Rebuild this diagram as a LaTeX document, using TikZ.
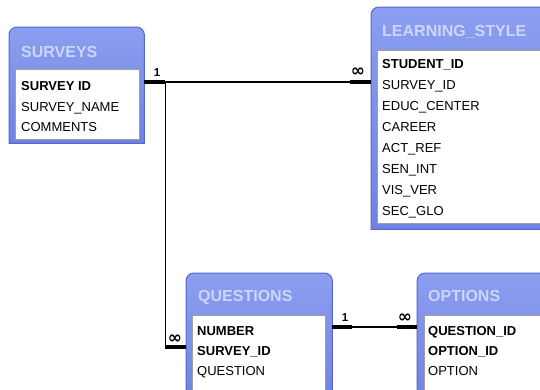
\documentclass[tikz,border=0pt]{standalone}
\usepackage{fontspec}
\setmainfont{Liberation Sans}
\newfontfamily\symfont{DejaVu Sans}
\usetikzlibrary{positioning,calc}
\definecolor{panelTop}{HTML}{8C9EF0}
\definecolor{panelBot}{HTML}{6E83E2}
\definecolor{panelEdge}{HTML}{5468D0}
\definecolor{titleText}{HTML}{CCD6FA}
\tikzset{
	x=1pt, y=1pt,
	tablearea/.style = {rectangle, inner sep=0pt, draw=none, anchor=north west},
	panel/.style = {draw=panelEdge, line width=1pt, top color=panelTop, bottom color=panelBot},
	fieldbox/.style = {rectangle, inner sep=0pt, anchor=north west, draw=gray!75, line width=1.4pt, fill=white},
	title/.style = {anchor=base west, inner sep=0pt, text=titleText, font=\bfseries\fontsize{16}{16}\selectfont},
	field/.style = {anchor=base west, inner sep=0pt, font=\fontsize{13}{13}\selectfont},
	keyfield/.style = {field, font=\bfseries\fontsize{13}{13}\selectfont},
	link/.style = {line width=1.1pt},
	stub/.style = {line width=3.6pt},
	card/.style = {inner sep=0pt, font=\bfseries\fontsize{11.5}{11.5}\selectfont},
	many/.style = {inner sep=0pt, font=\symfont\bfseries\fontsize{17}{17}\selectfont}
}
% panel with rounded top corners, drawn round a tablearea node
\newcommand{\tablepanel}[1]{%
	\draw[panel] (#1.south west) -- ([yshift=-8pt]#1.north west)
		arc[start angle=180, end angle=90, radius=8pt] -- ([xshift=-8pt]#1.north east)
		arc[start angle=90, end angle=0, radius=8pt] -- (#1.south east) -- cycle;}

\begin{document}
\begin{tikzpicture}
\useasboundingbox (0,0) rectangle (540,-389);
\clip (0,0) rectangle (540,-389);
\fill[white] (0,0) rectangle (540,-389);

% SURVEYS
\node[tablearea, minimum width=135pt, minimum height=116pt] (surveys) at (9,-27) {};
\tablepanel{surveys}
\node[fieldbox, minimum width=124pt, minimum height=70pt] (surveysf) at (15,-69) {};
\node[title] (surveyst) at (21,-57) {SURVEYS};
\node[keyfield] (sv1) at (21,-90.5) {SURVEY ID};
\node[field] (sv2) at (21,-111) {SURVEY\_NAME};
\node[field] (sv3) at (21,-131.5) {COMMENTS};

% LEARNING_STYLE
\node[tablearea, minimum width=180pt, minimum height=222pt] (learning) at (371,-7) {};
\tablepanel{learning}
\node[fieldbox, minimum width=175pt, minimum height=173pt] (learningf) at (377,-50) {};
\node[title] (learningt) at (382,-36) {LEARNING\_STYLE};
\node[keyfield] (ls1) at (382,-68) {STUDENT\_ID};
\foreach \fname [count=\i from 2] in {SURVEY\_ID, EDUC\_CENTER, CAREER, ACT\_REF, SEN\_INT, VIS\_VER, SEC\_GLO}
	\node[field] (ls\i) at (382,{-68-(\i-1)*21.14}) {\fname};

% QUESTIONS
\node[tablearea, minimum width=146pt, minimum height=130pt] (questions) at (186,-273) {};
\tablepanel{questions}
\node[fieldbox, minimum width=133pt, minimum height=90pt] (questionsf) at (192,-315) {};
\node[title] (questionst) at (198,-301.5) {QUESTIONS};
\node[keyfield] (qu1) at (197,-335) {NUMBER};
\node[keyfield] (qu2) at (197,-355) {SURVEY\_ID};
\node[field] (qu3) at (197,-375) {QUESTION};

% OPTIONS
\node[tablearea, minimum width=140pt, minimum height=130pt] (options) at (417,-273) {};
\tablepanel{options}
\node[fieldbox, minimum width=130pt, minimum height=90pt] (optionsf) at (424,-315) {};
\node[title] (optionst) at (428,-301.5) {OPTIONS};
\node[keyfield] (op1) at (428,-335) {QUESTION\_ID};
\node[keyfield] (op2) at (428,-355) {OPTION\_ID};
\node[field] (op3) at (428,-375) {OPTION};

% relationships
\coordinate (svout) at ([yshift=-55pt]surveys.north east);
\coordinate (lsin) at ([yshift=-75pt]learning.north west);
\coordinate (bend) at ([xshift=21pt]svout);
\coordinate (quin) at ([yshift=-74pt]questions.north west);
\coordinate (corner) at (bend |- quin);
\coordinate (quout) at ([yshift=-54pt]questions.north east);
\coordinate (opin) at ([yshift=-54pt]options.north west);

\draw[link] (svout) -- (lsin);
\draw[link] (bend) -- (corner) -- (quin);
\draw[link] (quout) -- (opin);
\draw[stub] (svout) -- (bend);
\draw[stub] (lsin) -- ++(-21,0);
\draw[stub] (quin) -- (corner);
\draw[stub] (quout) -- ++(20,0);
\draw[stub] (opin) -- ++(-20,0);

\node[card] (c1) at (157,-73) {1};
\node[many] (c2) at (358,-72) {∞};
\node[many] (c3) at (175,-339) {∞};
\node[card] (c4) at (345,-318) {1};
\node[many] (c5) at (405,-318) {∞};
\end{tikzpicture}
\end{document}
